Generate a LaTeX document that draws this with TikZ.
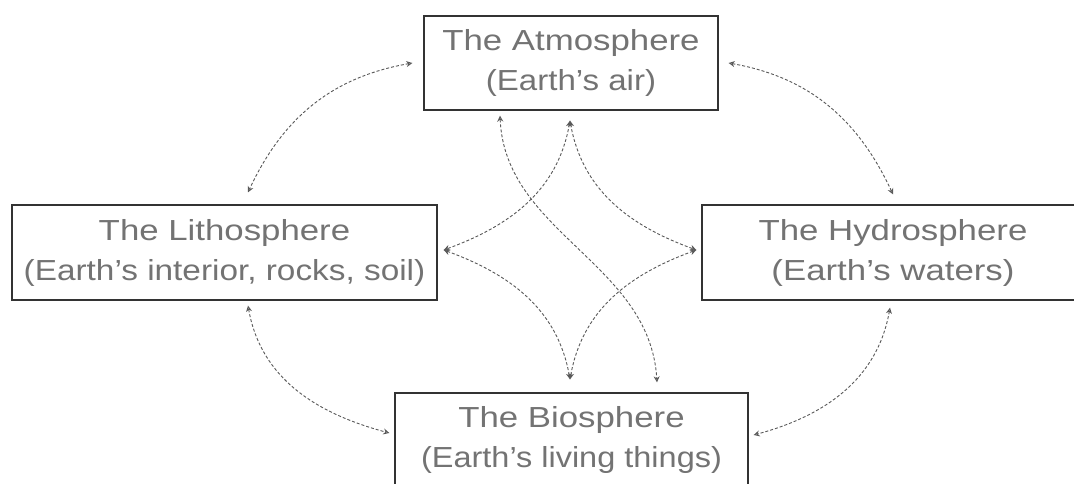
\documentclass[tikz,border=0pt]{standalone}
\usepackage{fontspec}
\setmainfont{Liberation Sans}
\usetikzlibrary{arrows.meta}
\definecolor{txt}{gray}{0.45}
\definecolor{ln}{gray}{0.35}
\newcommand\ttl[2][1.2]{\scalebox{#1}[1]{#2}}
\begin{document}
\begin{tikzpicture}[x=1pt,y=1pt,
  box/.style={draw=black!80, line width=1.3pt, minimum height=94pt, inner sep=0pt,
    text=txt, align=center, font=\fontsize{29}{40}\selectfont},
  link/.style={draw=ln, densely dashed, line width=0.9pt,
    {Stealth[open,length=6pt,width=6pt]}-{Stealth[open,length=6pt,width=6pt]}}]
\useasboundingbox (0,0) rectangle (1074,483);
\clip (0,0) rectangle (1074,483);
\fill[white] (0,0) rectangle (1074,483);

\node[box, minimum width=294pt] (atm) at (571,420) {\ttl{The Atmosphere}\\\ttl[1.14]{(Earth's air)}};
\node[box, minimum width=425pt, minimum height=95pt] (lit) at (224.5,230.5) {\ttl{The Lithosphere}\\\ttl[1.15]{(Earth's interior, rocks, soil)}};
\node[box, minimum width=382pt, minimum height=95pt] (hyd) at (893,230.5) {\ttl{The Hydrosphere}\\\ttl[1.2]{(Earth's waters)}};
\node[box, minimum width=353pt] (bio) at (571.5,43) {\ttl{The Biosphere}\\\ttl[1.12]{(Earth's living things)}};

% outer arcs
\draw[link] ([xshift=-11pt]atm.west) to[out=190,in=65] ([shift={(23.5,12)}]lit.north);
\draw[link] ([xshift=10pt]atm.east) to[out=-10,in=115] ([yshift=10pt]hyd.north);
\draw[link] ([shift={(23.5,-5)}]lit.south) to[out=-80,in=165] ([shift={(-5,7)}]bio.west);
\draw[link] ([shift={(-3,-7)}]hyd.south) to[out=-100,in=15] ([shift={(5,5)}]bio.east);

% star
\coordinate (T) at ([shift={(-1,-10)}]atm.south);
\coordinate (L) at ([shift={(6,2.5)}]lit.east);
\coordinate (R) at ([shift={(-5,2.5)}]hyd.west);
\coordinate (B) at ([shift={(-1.5,13)}]bio.north);
\draw[link] (T) to[out=-100,in=20] (L);
\draw[link] (T) to[out=-80,in=160] (R);
\draw[link] (L) to[out=-20,in=100] (B);
\draw[link] (R) to[out=200,in=80] (B);

% crossing curve
\coordinate (S1) at ([shift={(-71,-5)}]atm.south);
\coordinate (S2) at ([shift={(85.5,10)}]bio.north);
\draw[link] (S1) .. controls (505,250) and (650,220) .. (S2);
\end{tikzpicture}
\end{document}
